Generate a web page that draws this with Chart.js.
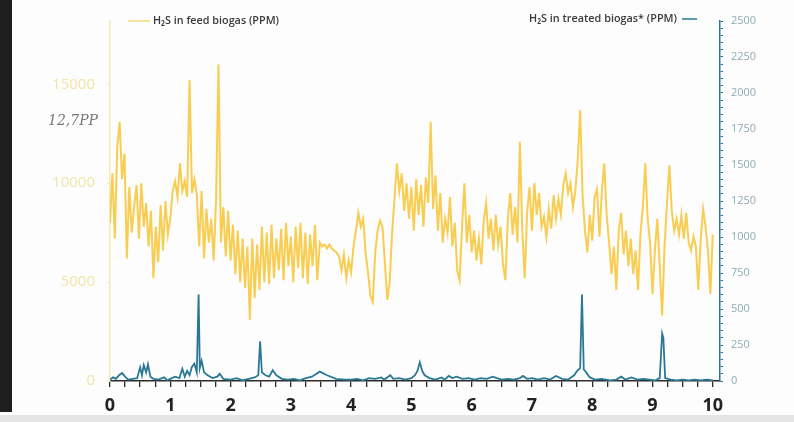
<!DOCTYPE html>
<html>
<head>
<meta charset="utf-8">
<script src="https://cdn.jsdelivr.net/npm/chart.js@4"></script>
<style>
  html, body { margin: 0; padding: 0; background: #fff; }
  #wrap { position: relative; width: 794px; height: 422px; overflow: hidden; background: #fdfdfd; }
  #edge { position: absolute; left: 0; top: 0; width: 12px; height: 412px; background: #1e1e1e; }
  #band { position: absolute; left: 0; top: 415px; width: 794px; height: 7px; background: #e4e4e4; }
  #note { position: absolute; left: 48px; top: 112px; font: italic 14px "DejaVu Serif"; color: #777; }
  canvas { position: absolute; left: 0; top: 0; }
</style>
</head>
<body>
<div id="wrap">
  <canvas id="chart" width="794" height="422"></canvas>
  <div id="edge"></div>
  <div id="band"></div>
  <div id="note">12,7PP</div>
</div>
<script>
// H2S in feed biogas, sampled every 0.04 units from 0 to 10 (left axis, PPM)
const feedStep = 0.04;
const feedPpm = [
  8000, 10500, 7200, 11800, 13100, 10200, 11500, 6200, 9800, 7500,
  8800, 9900, 7200, 10000, 7800, 9000, 6800, 8600, 5200, 7800,
  6000, 8900, 6600, 9100, 7400, 8200, 9600, 10100, 9300, 11000,
  9600, 10100, 9300, 15200, 9500, 10200, 9400, 6800, 9600, 6200,
  8700, 7000, 8200, 6100, 9200, 16000, 7000, 8800, 6300, 8600,
  6100, 7900, 5400, 7600, 5000, 7200, 4700, 6800, 3100, 7200,
  4200, 6900, 4600, 7800, 5000, 7500, 4900, 7900, 5200, 7200,
  5600, 7700, 5100, 8000, 5800, 7300, 5000, 7800, 5700, 8000,
  5200, 7500, 4900, 7400, 5800, 7900, 5100, 7000, 6800, 6900,
  6700, 6900, 6700, 6600, 6500, 6300, 5600, 6400, 5200, 6100,
  5500, 6800, 7600, 8500, 7800, 8200, 6500, 5500, 4300, 4000,
  6500, 7600, 8100, 7800, 6000, 4100, 5000, 7500, 9200, 11000,
  9600, 10500, 8600, 10000, 8200, 9800, 7600, 10200, 8400, 9900,
  7800, 10300, 9000, 13100, 8700, 10400, 7600, 9500, 7000, 8200,
  7500, 9300, 6800, 8000, 5600, 5100, 7800, 10000, 7000, 8400,
  6500, 7600, 6100, 7200, 5900, 8100, 9000, 7200, 8200, 6600,
  8400, 6900, 7800, 5900, 5100, 8200, 9500, 7400, 8800, 7000,
  12100, 7600, 5200, 8500, 9800, 7600, 10000, 8400, 9500, 7800,
  8300, 7300, 8700, 7700, 9400, 8200, 9200, 8400, 9900, 10500,
  9500, 10000, 8800, 9600, 11200, 13700, 9400, 7600, 6500, 8400,
  7100, 9300, 9700, 7300, 9600, 11000, 8400, 7000, 5400, 6800,
  4600, 7600, 8500, 6400, 7600, 5800, 7200, 5400, 6600, 4600,
  7400, 8800, 11000, 8200, 7000, 4400, 6600, 8200, 5800, 3300,
  6800, 9000, 10900, 8600, 7600, 8200, 7400, 8400, 7200, 8500,
  7000, 6600, 7300, 6800, 4600, 7200, 8700, 7800, 6600, 4400,
  7400
];

// H2S in treated biogas (right axis, PPM)
const treatedDays = [
  0.00, 0.05, 0.10, 0.15, 0.20, 0.25, 0.30, 0.38, 0.45, 0.50, 0.53, 0.56, 0.60, 0.63, 0.67, 0.72,
  0.80, 0.90, 0.95, 1.00, 1.08, 1.15, 1.20, 1.24, 1.28, 1.32, 1.36, 1.40, 1.44, 1.47, 1.49, 1.52,
  1.56, 1.62, 1.70, 1.78, 1.82, 1.88, 2.00, 2.10, 2.20, 2.30, 2.40, 2.46, 2.49, 2.52, 2.58, 2.64,
  2.70, 2.76, 2.85, 2.95, 3.05, 3.15, 3.25, 3.35, 3.48, 3.60, 3.75, 3.90, 4.00, 4.10, 4.20, 4.30,
  4.40, 4.50, 4.55, 4.65, 4.70, 4.80, 4.90, 5.00, 5.06, 5.10, 5.14, 5.18, 5.22, 5.30, 5.40, 5.50,
  5.55, 5.62, 5.68, 5.75, 5.85, 5.95, 6.05, 6.15, 6.25, 6.35, 6.42, 6.50, 6.60, 6.70, 6.80, 6.85,
  6.92, 7.00, 7.10, 7.20, 7.30, 7.40, 7.50, 7.60, 7.70, 7.75, 7.80, 7.83, 7.86, 7.90, 7.96, 8.05,
  8.15, 8.30, 8.40, 8.48, 8.55, 8.65, 8.75, 8.85, 8.95, 9.05, 9.12, 9.16, 9.18, 9.21, 9.30, 9.40,
  9.50, 9.60, 9.70, 9.80, 9.90, 10.00
];
const treatedPpm = [
  10, 25, 15, 40, 55, 30, 10, 15, 20, 95, 40, 110, 60, 115, 30, 15,
  10, 25, 5, 15, 30, 20, 85, 30, 70, 40, 100, 120, 60, 600, 90, 140,
  60, 40, 20, 30, 50, 15, 10, 20, 5, 15, 25, 40, 275, 60, 40, 30,
  75, 40, 15, 10, 15, 5, 20, 30, 65, 40, 15, 10, 10, 15, 5, 20,
  15, 25, 10, 40, 15, 20, 10, 20, 40, 70, 130, 70, 40, 20, 10, 25,
  10, 35, 20, 30, 15, 20, 10, 20, 15, 30, 20, 10, 15, 10, 20, 35,
  15, 20, 10, 20, 10, 35, 15, 10, 40, 70, 90, 600, 80, 60, 25, 10,
  15, 5, 10, 30, 10, 25, 10, 15, 10, 5, 20, 330, 300, 20, 10, 5,
  10, 5, 10, 5, 10, 5
];

const xTicks = [0, 1, 2, 3, 4, 5, 6, 7, 8, 9, 10];
const feedTicks = [0, 5000, 10000, 15000];
const treatedTicks = [0, 250, 500, 750, 1000, 1250, 1500, 1750, 2000, 2250, 2500];

const feedColor = "rgba(247, 196, 52, 0.85)";
const treatedColor = "#2a7895";

const feedPoints = feedPpm.map((v, i) => ({ x: +(i * feedStep).toFixed(2), y: v }));
const treatedPoints = treatedDays.map((d, i) => ({ x: d, y: treatedPpm[i] }));

// legend drawn by hand: one entry top-left, one entry top-right
const legendPlugin = {
  id: "sideLegends",
  afterDraw(chart) {
    const ctx = chart.ctx;
    ctx.save();
    ctx.font = "600 11px 'Open Sans'";
    ctx.fillStyle = "#3a3a3a";
    ctx.textBaseline = "middle";

    const fitText = (text, x, y, w) => {
      const m = ctx.measureText(text).width;
      ctx.save();
      ctx.translate(x, y);
      ctx.scale(w / m, 1);
      ctx.fillText(text, 0, 0);
      ctx.restore();
    };

    ctx.strokeStyle = "#f6e49a";
    ctx.lineWidth = 2;
    ctx.beginPath();
    ctx.moveTo(128, 21);
    ctx.lineTo(150, 21);
    ctx.stroke();
    fitText("H\u2082S in feed biogas (PPM)", 153, 21, 126);

    fitText("H\u2082S in treated biogas* (PPM)", 529, 19, 148);
    ctx.strokeStyle = treatedColor;
    ctx.lineWidth = 1.5;
    ctx.beginPath();
    ctx.moveTo(682, 19);
    ctx.lineTo(697, 19);
    ctx.stroke();
    ctx.restore();
  }
};

new Chart(document.getElementById("chart"), {
  type: "line",
  data: {
    datasets: [
      {
        label: "H\u2082S in treated biogas* (PPM)",
        data: treatedPoints,
        yAxisID: "y1",
        borderColor: treatedColor,
        borderWidth: 1.8,
        pointRadius: 0,
        tension: 0,
        order: 0
      },
      {
        label: "H\u2082S in feed biogas (PPM)",
        data: feedPoints,
        yAxisID: "y",
        borderColor: feedColor,
        borderWidth: 2,
        pointRadius: 0,
        tension: 0,
        order: 1
      }
    ]
  },
  options: {
    responsive: false,
    animation: false,
    layout: { padding: { top: 17, left: 0, right: 0, bottom: 0 } },
    plugins: {
      legend: { display: false },
      tooltip: { enabled: false }
    },
    scales: {
      x: {
        type: "linear",
        min: 0,
        max: 10.12,
        afterBuildTicks: (axis) => {
          const t = [];
          for (let i = 0; i <= 40; i++) t.push({ value: i * 0.25 });
          axis.ticks = t;
        },
        afterFit: (axis) => { axis.height = 41; },
        ticks: {
          autoSkip: false,
          maxRotation: 0,
          padding: 8,
          color: "#222",
          font: { family: "'Open Sans'", size: 18, weight: "bold" },
          callback: (v) => (xTicks.includes(v) ? String(v) : "")
        },
        border: { display: true, color: "#2b2b2b", width: 1.5 },
        grid: { drawOnChartArea: false, drawTicks: true, tickLength: 6, color: "#2b2b2b", lineWidth: 1.3 }
      },
      y: {
        position: "left",
        min: 0,
        max: 18200,
        afterBuildTicks: (axis) => { axis.ticks = feedTicks.map((v) => ({ value: v })); },
        afterFit: (axis) => { axis.width = 110; },
        ticks: {
          color: "#f2e4a6",
          padding: 12,
          font: { family: "'Open Sans'", size: 15 },
          callback: (v) => String(v)
        },
        border: { display: true, color: "#f5eab6", width: 1.5 },
        grid: { drawOnChartArea: false, tickLength: 3, color: "#f5eab6" }
      },
      y1: {
        position: "right",
        min: 0,
        max: 2500,
        afterBuildTicks: (axis) => {
          const t = [];
          for (let v = 0; v <= 2500; v += 50) t.push({ value: v });
          axis.ticks = t;
        },
        afterFit: (axis) => { axis.width = 74; },
        ticks: {
          autoSkip: false,
          color: "#8eabb3",
          padding: 8,
          font: { family: "'Open Sans'", size: 11 },
          callback: (v) => (treatedTicks.includes(v) ? String(v) : "")
        },
        border: { display: true, color: treatedColor, width: 1.5 },
        grid: { drawOnChartArea: false, tickLength: 3, color: treatedColor }
      }
    }
  },
  plugins: [legendPlugin]
});
</script>
</body>
</html>
